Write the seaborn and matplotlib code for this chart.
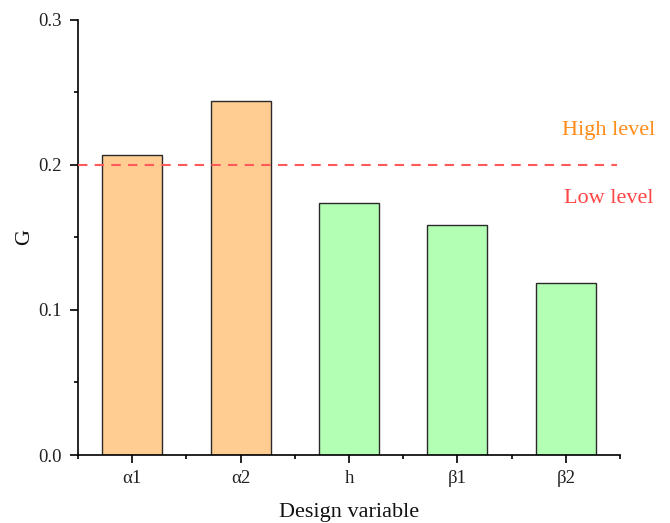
import matplotlib
matplotlib.use("Agg")
import matplotlib.pyplot as plt
import seaborn as sns
import pandas as pd
from matplotlib.ticker import MultipleLocator

categories = ["α1", "α2", "h", "β1", "β2"]
values = [0.2066, 0.2440, 0.1733, 0.1584, 0.1182]
groups = ["High", "High", "Low", "Low", "Low"]
threshold = 0.2

sns.set_theme(style="ticks")
plt.rcParams['font.family'] = ['Liberation Serif', 'DejaVu Serif']

df = pd.DataFrame({"var": categories, "G": values, "grp": groups})

fig = plt.figure(figsize=(6.7, 5.23), dpi=100)
ax = fig.add_axes([78/670, 1-455/523, (620-78)/670, (455-19.5)/523])

sns.barplot(data=df, x="var", y="G", hue="grp", dodge=False, ax=ax,
            palette={"High": "#FFCC92", "Low": "#B3FFB3"}, saturation=1,
            width=0.555, edgecolor="#2a2a2a", linewidth=1.0, legend=False)

ax.set_xlim(-0.5, 4.5)
ax.set_ylim(0, 0.3)
ax.yaxis.set_major_locator(MultipleLocator(0.1))
ax.yaxis.set_minor_locator(MultipleLocator(0.05))
ax.xaxis.set_minor_locator(MultipleLocator(1.0, offset=0.5))
ax.set_yticks([0.0, 0.1, 0.2, 0.3])
ax.set_yticklabels(["0.0", "0.1", "0.2", "0.3"])

for s in ["top", "right"]:
    ax.spines[s].set_visible(False)
for s in ["left", "bottom"]:
    ax.spines[s].set_linewidth(1.2)
    ax.spines[s].set_color("black")

ax.tick_params(axis="both", which="major", direction="out", length=6, width=1.2,
               labelsize=13.5, color="black", labelcolor="#222222", pad=5.5)
ax.tick_params(axis="both", which="minor", direction="out", length=3, width=1.2, color="black")
ax.tick_params(axis="x", which="major", pad=5)

ax.axhline(threshold, xmin=0, xmax=(617-78)/542, color="#FF5A5A", linestyle=(0, (4.5, 3.5)),
           linewidth=1.5, zorder=5)

ax.text(4.395, 0.2235, "High level", color="#FF8C1A", fontsize=16, ha="center", va="center")
ax.text(4.395, 0.1768, "Low level", color="#FF4545", fontsize=16, ha="center", va="center")

ax.set_xlabel("Design variable", fontsize=16, color="#111111", labelpad=11)
ax.set_ylabel("G", fontsize=16, color="#111111", labelpad=3)

fig.savefig("out.png", dpi=100)
